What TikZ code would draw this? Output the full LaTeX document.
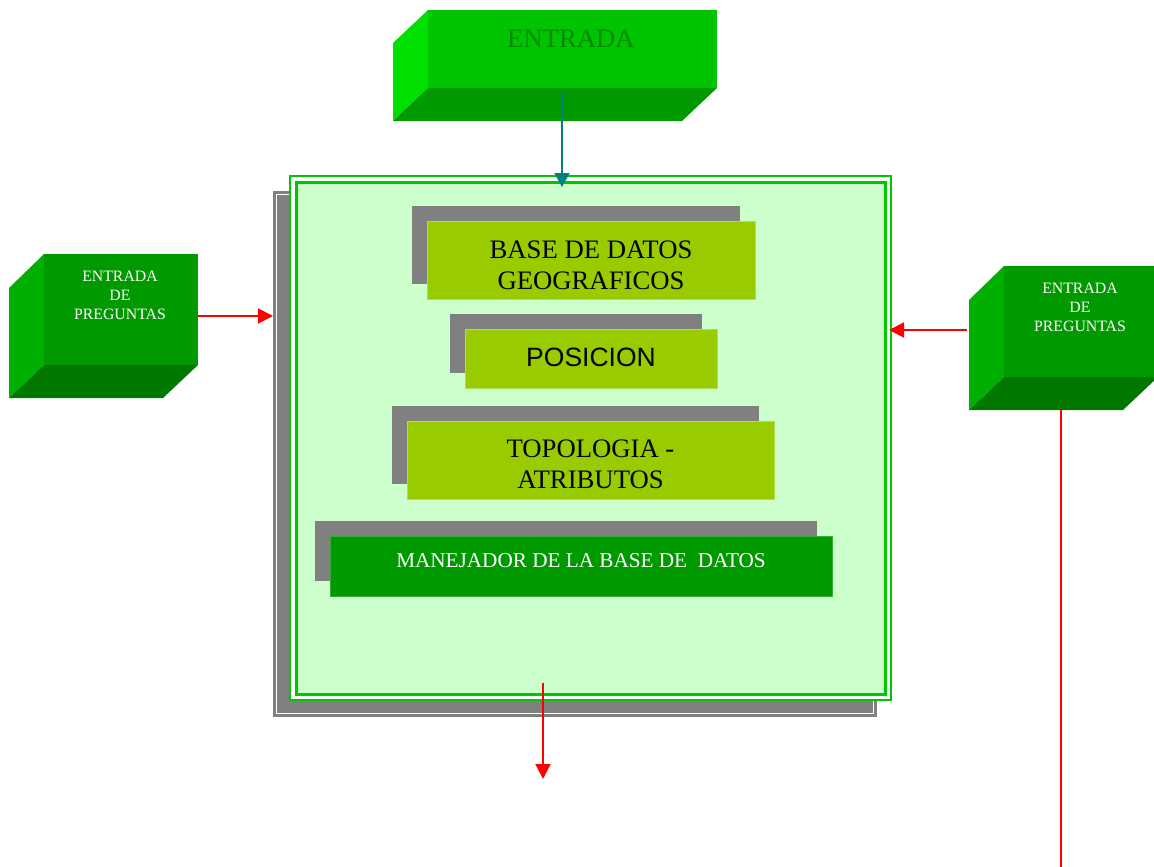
\documentclass[tikz,border=0pt]{standalone}
\usepackage{fontspec}
\setmainfont{Liberation Serif}
\newfontfamily\arialfont{Liberation Sans}
\usetikzlibrary{arrows.meta,shadows}

\definecolor{boxlime}{HTML}{99CC00}
\definecolor{boxgreen}{HTML}{009900}
\definecolor{panelfill}{HTML}{CCFFCC}
\definecolor{panelline}{HTML}{00C800}
\definecolor{shadegray}{HTML}{808080}
\definecolor{topfront}{HTML}{00C400}
\definecolor{topside}{HTML}{00E000}
\definecolor{topbottom}{HTML}{009900}
\definecolor{toptext}{HTML}{008A00}
\definecolor{qfront}{HTML}{009900}
\definecolor{qside}{HTML}{00B000}
\definecolor{qbottom}{HTML}{007800}
\definecolor{flowteal}{HTML}{008080}
\definecolor{flowred}{HTML}{FF0000}

\tikzset{
  every node/.style={inner sep=0pt, outer sep=0pt},
  layerbox/.style={rectangle, fill=boxlime, draw=boxlime!70!white, line width=0.8pt,
    general shadow={fill=shadegray, shadow xshift=-15pt, shadow yshift=15pt}},
  engbox/.style={rectangle, fill=boxgreen, draw=boxgreen!80!white, line width=0.8pt,
    general shadow={fill=shadegray, shadow xshift=-15pt, shadow yshift=15pt}},
  layertext/.style={align=center, text=black, font=\fontsize{26.7}{31}\selectfont},
  qlabel/.style={align=center, text=white, font=\fontsize{15.8}{19}\selectfont},
  redflow/.style={draw=flowred, line width=2pt, -{Triangle[length=15pt,width=15pt]}},
  tealflow/.style={draw=flowteal, line width=2pt, -{Triangle[length=14pt,width=15pt]}},
}

\begin{document}
\begin{tikzpicture}[x=1pt,y=-1pt]
\useasboundingbox (0,0) rectangle (1154,867);
\clip (0,0) rectangle (1154,867);

% ---- top input block (3D slab) ----
\node[rectangle, fill=topfront, minimum width=289pt, minimum height=78pt] (ent) at (572.5,49) {};
\fill[topside] (ent.north west) -- ++(-35,33) -- ([shift={(-35,33)}]ent.south west) -- (ent.south west) -- cycle;
\fill[topbottom] (ent.south west) -- ([shift={(-35,33)}]ent.south west) -- ([shift={(-35,33)}]ent.south east) -- (ent.south east) -- cycle;
\node[text=toptext, font=\fontsize{26.7}{31}\selectfont] (entlabel) at (571,39) {ENTRADA};

% ---- left query block ----
\node[rectangle, fill=qfront, minimum width=154pt, minimum height=111pt] (qleft) at (121,309.5) {};
\fill[qside] (qleft.north west) -- ++(-35,34) -- ([shift={(-35,33)}]qleft.south west) -- (qleft.south west) -- cycle;
\fill[qbottom] (qleft.south west) -- ([shift={(-35,33)}]qleft.south west) -- ([shift={(-35,33)}]qleft.south east) -- (qleft.south east) -- cycle;
\node[qlabel] (qleftlabel) at (120,295) {ENTRADA\\DE\\PREGUNTAS};

% ---- right query block ----
\node[rectangle, fill=qfront, minimum width=154pt, minimum height=111pt] (qright) at (1081,321.5) {};
\fill[qside] (qright.north west) -- ++(-35,34) -- ([shift={(-35,33)}]qright.south west) -- (qright.south west) -- cycle;
\fill[qbottom] (qright.south west) -- ([shift={(-35,33)}]qright.south west) -- ([shift={(-35,33)}]qright.south east) -- (qright.south east) -- cycle;
\node[qlabel] (qrightlabel) at (1080,307) {ENTRADA\\DE\\PREGUNTAS};

% ---- central store panel with its shadow ----
\node[rectangle, fill=shadegray, draw=shadegray, line width=1.5pt, minimum width=602.5pt, minimum height=524.5pt] (storeshadow) at (575,454) {};
\node[rectangle, draw=white, line width=1pt, minimum width=597pt, minimum height=519pt] (storeshadowline) at (575,454) {};
\node[rectangle, fill=white, draw=panelline, line width=2pt, minimum width=601pt, minimum height=524pt] (store) at (590.5,438) {};
\node[rectangle, fill=panelfill, draw=panelline, line width=3pt, minimum width=589pt, minimum height=512pt] (storein) at (590.5,438) {};

% ---- layers inside the panel ----
\node[layerbox, minimum width=328pt, minimum height=78pt] (geo) at (591,260) {};
\node[layertext] (geolabel) at (591,265) {BASE DE DATOS\\GEOGRAFICOS};
\node[layerbox, minimum width=252pt, minimum height=59pt] (pos) at (591,358.5) {};
\node[text=black, font=\arialfont\fontsize{26.5}{31}\selectfont] (poslabel) at (591,357.5) {POSICION};
\node[layerbox, minimum width=367pt, minimum height=78pt] (topo) at (590.5,460) {};
\node[layertext] (topolabel) at (590.5,464.5) {TOPOLOGIA -\\ATRIBUTOS};
\node[engbox, minimum width=502pt, minimum height=60pt] (dbms) at (581,566) {};
\node[text=white, font=\fontsize{21.2}{25}\selectfont] (dbmslabel) at (581,561) {MANEJADOR DE LA BASE DE\ \ DATOS};

% ---- connectors ----
\coordinate (topTip) at (562,187);
\draw[tealflow] ([yshift=-4pt]ent.south -| topTip) -- (topTip);

\coordinate (leftTip) at (273,316);
\draw[redflow] (qleft.east |- leftTip) -- (leftTip);

\coordinate (rightTip) at (889,330);
\draw[redflow] ([xshift=-37pt]qright.west |- rightTip) -- (rightTip);

\coordinate (outTip) at (543,779);
\draw[redflow] ([yshift=17pt]store.south -| outTip) -- (outTip);

\coordinate (rightDown) at (1061,867);
\draw[draw=flowred, line width=2pt] ([yshift=-32pt]qright.south -| rightDown) -- (rightDown);
\end{tikzpicture}
\end{document}
